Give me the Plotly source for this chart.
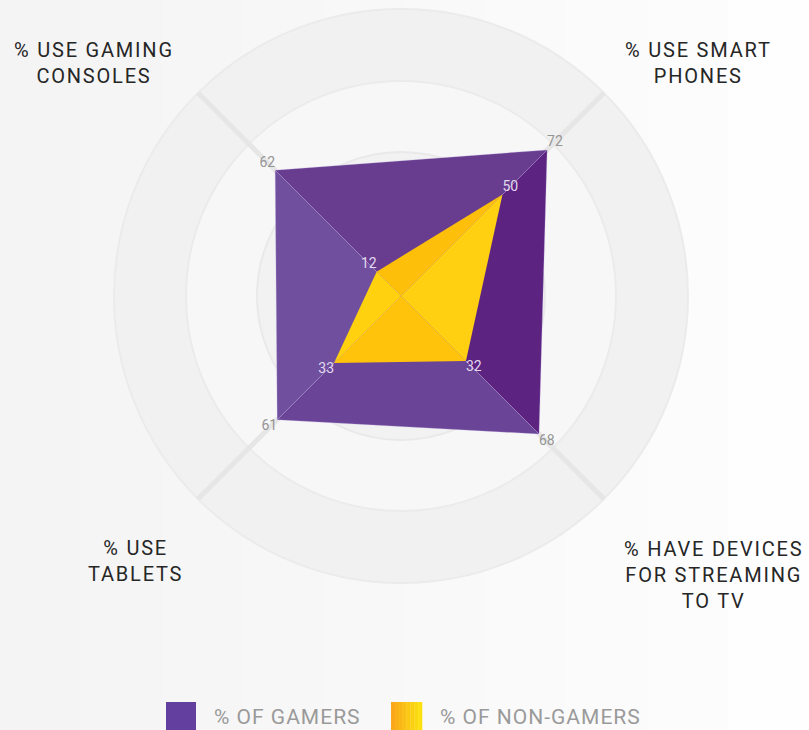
import plotly.graph_objects as go

# ---- data ----
categories = ["% USE GAMING CONSOLES", "% USE SMART PHONES",
              "% HAVE DEVICES FOR STREAMING TO TV", "% USE TABLETS"]
category_lines = [["% USE GAMING", "CONSOLES"], ["% USE SMART", "PHONES"],
                  ["% HAVE DEVICES", "FOR STREAMING", "TO TV"], ["% USE", "TABLETS"]]
series_names = ["% OF GAMERS", "% OF NON-GAMERS"]
gamers = [62, 72, 68, 61]
non_gamers = [12, 50, 32, 33]

# ---- geometry (pixels) ----
W, H = 809, 730
CX, CY, R = 401, 296, 287
FONT = "Roboto"

def px(x):
    return x / W

def py(y):
    return 1 - y / H

fig = go.Figure()

# spokes
sr, st = [], []
for c in categories:
    sr += [0, 108, None]
    st += [c, c, None]
fig.add_trace(go.Scatterpolar(r=sr, theta=st, mode="lines", cliponaxis=False,
                              line=dict(color="#e6e6e6", width=5),
                              hoverinfo="skip", showlegend=False))

purple_facets = ["#683d90", "#5c2381", "#6a4497", "#714f9f"]
purple_edge = "rgba(190,170,225,0.35)"
yellow_facets = ["#fdbf09", "#ffd012", "#fec30a", "#ffd10e"]

def add_facets(vals, colors, edge):
    n = len(categories)
    for i in range(n):
        j = (i + 1) % n
        fig.add_trace(go.Scatterpolar(
            r=[0, vals[i], vals[j], 0],
            theta=[categories[i], categories[i], categories[j], categories[i]],
            mode="lines", fill="toself", fillcolor=colors[i],
            line=dict(color=edge, width=0.8),
            hoverinfo="skip", showlegend=False))

add_facets(gamers, purple_facets, purple_edge)
add_facets(non_gamers, yellow_facets, "rgba(255,200,0,0.0)")

positions = ["top left", "top right", "bottom right", "bottom left"]
fig.add_trace(go.Scatterpolar(r=gamers, theta=categories, mode="text",
                              text=[str(v) for v in gamers], textposition=positions,
                              textfont=dict(family=FONT, size=14, color="#959595"),
                              cliponaxis=False, hoverinfo="skip", showlegend=False))
fig.add_trace(go.Scatterpolar(r=non_gamers, theta=categories, mode="text",
                              text=[str(v) for v in non_gamers], textposition=positions,
                              textfont=dict(family=FONT, size=14, color="#e2d9ee"),
                              cliponaxis=False, hoverinfo="skip", showlegend=False))

shapes = []
# background gradient strips
nstrip = 10
for k in range(nstrip):
    g = int(0xf4 + (0xfe - 0xf4) * k / (nstrip - 1))
    shapes.append(dict(type="rect", xref="paper", yref="paper", layer="below",
                       x0=k / nstrip, x1=(k + 1) / nstrip + 0.002, y0=0, y1=1,
                       fillcolor=f"rgb({g},{g},{g})", line=dict(width=0)))
# concentric discs
for rad, fill, edge in [(287, "#f1f1f1", "#ebebeb"), (215, "#f7f7f7", "#ebebeb"),
                        (144, "#f2f2f2", "#e9e9e9")]:
    shapes.append(dict(type="circle", xref="paper", yref="paper", layer="below",
                       x0=px(CX - rad), x1=px(CX + rad), y0=py(CY + rad), y1=py(CY - rad),
                       fillcolor=fill, line=dict(color=edge, width=2)))

# legend swatches
shapes.append(dict(type="rect", xref="paper", yref="paper",
                   x0=px(166), x1=px(196), y0=py(731), y1=py(702),
                   fillcolor="#6340a0", line=dict(width=0)))
ny = 8
c0, c1 = (0xfa, 0xa8, 0x1a), (0xfd, 0xe0, 0x10)
for k in range(ny):
    t = k / (ny - 1)
    col = tuple(int(a + (b - a) * t) for a, b in zip(c0, c1))
    xa = 391 + (422 - 391) * k / ny
    xb = 391 + (422 - 391) * (k + 1) / ny
    shapes.append(dict(type="rect", xref="paper", yref="paper",
                       x0=px(xa), x1=px(xb + 0.3), y0=py(731), y1=py(702),
                       fillcolor=f"rgb{col}", line=dict(width=0)))

def spaced(s, sp=1.6):
    return f"<span style='letter-spacing:{sp}px'>{s}</span>"

annotations = []
label_pos = [(94, 63), (698, 63), (713, 575), (135, 561)]
for lines, (x, y) in zip(category_lines, label_pos):
    annotations.append(dict(text="<br>".join(spaced(l, 1.8) for l in lines),
                            x=px(x), y=py(y), xref="paper", yref="paper",
                            xanchor="center", yanchor="middle", align="center",
                            showarrow=False,
                            font=dict(family=FONT, size=20, color="#262626")))
for name, x in zip(series_names, [212, 438]):
    annotations.append(dict(text=spaced(name, 1.0), x=px(x), y=py(717),
                            xref="paper", yref="paper", xanchor="left", yanchor="middle",
                            showarrow=False,
                            font=dict(family=FONT, size=21, color="#9a9a9a")))

fig.update_layout(
    width=W, height=H,
    margin=dict(l=0, r=0, t=0, b=0),
    paper_bgcolor="#f9f9f9",
    showlegend=False,
    polar=dict(
        domain=dict(x=[px(CX - R), px(CX + R)], y=[py(CY + R), py(CY - R)]),
        bgcolor="rgba(0,0,0,0)",
        radialaxis=dict(range=[0, 100], visible=False, showgrid=False),
        angularaxis=dict(type="category", categoryarray=categories,
                         rotation=135, direction="clockwise",
                         showgrid=False, showline=False, showticklabels=False,
                         ticks=""),
    ),
    shapes=shapes,
    annotations=annotations,
)

fig.write_html("out.html", config={"displayModeBar": False},
               post_script="document.body.style.margin='0';document.body.style.overflow='hidden';")
